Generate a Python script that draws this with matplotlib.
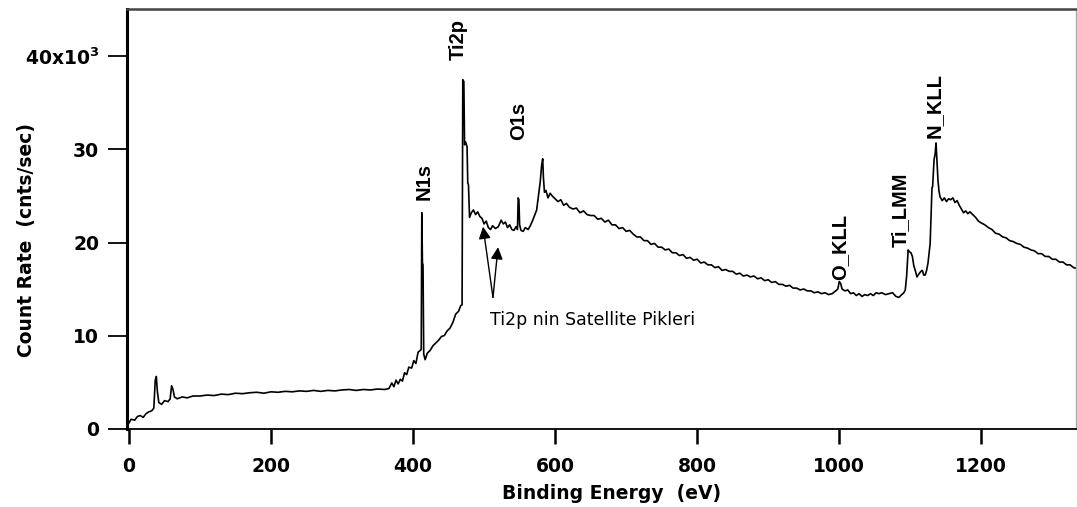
import numpy as np
import matplotlib
matplotlib.use('Agg')
import matplotlib.pyplot as plt

# XPS survey spectrum
# (binding energy in eV, count rate in 10^3 cnts/sec), one list per region
low_region = [(0, 0.6), (3, 1.0), (8, 0.9), (12, 1.3), (16, 1.4), (20, 1.2), (24, 1.6), (28, 1.8),
              (32, 1.9), (35, 2.2), (37, 5.2), (38.5, 5.6), (40, 4.0), (42, 2.8), (46, 2.6), (50, 3.0),
              (55, 2.9), (58, 3.2), (60, 4.6), (62, 4.2), (64, 3.4), (68, 3.2), (75, 3.4), (82, 3.3),
              (90, 3.5), (100, 3.5), (110, 3.6), (120, 3.55), (130, 3.7), (140, 3.65), (150, 3.8),
              (160, 3.75), (170, 3.85), (180, 3.9), (190, 3.8), (200, 3.95), (210, 3.9), (220, 4.0),
              (230, 3.95), (240, 4.05), (250, 4.0), (260, 4.1), (270, 4.0), (280, 4.1), (290, 4.05),
              (300, 4.15), (310, 4.2), (320, 4.1), (330, 4.2), (340, 4.15), (350, 4.25), (360, 4.2),
              (366, 4.3), (370, 4.9), (373, 4.5), (376, 5.2), (379, 4.8), (382, 5.3), (385, 5.1),
              (388, 6.0), (391, 5.8), (394, 6.6), (398, 6.5), (401, 7.3), (404, 7.0), (407, 8.2),
              (410, 8.4), (411.5, 8.5)]
n_ti_region = [(412.3, 23.2), (413.2, 17.8), (414, 17.6), (415, 8.0), (417, 7.4), (420, 8.1),
               (424, 8.4), (428, 8.9), (432, 9.2), (436, 9.5), (440, 9.9), (444, 10.0), (448, 10.5),
               (452, 10.8), (456, 11.4), (460, 12.3), (464, 12.6), (467, 13.2), (469, 13.3),
               (470, 37.5), (471.5, 37.3), (472.5, 30.5), (474, 30.8), (476, 30.3), (477, 26.4),
               (478, 26.2), (479.5, 22.7), (482, 23.2), (485, 23.5), (488, 23.0), (491, 23.3),
               (494, 22.8), (497, 22.6), (500, 22.0), (503, 22.3), (506, 21.6), (509, 21.4),
               (512, 21.8), (516, 21.5), (520, 21.7), (524, 22.4), (527, 22.0), (530, 22.2),
               (533, 21.6), (536, 21.9), (539, 21.4), (542, 21.3), (545, 21.7), (547, 21.4)]
o_region = [(548, 24.8), (549, 24.6), (550, 21.9), (552, 21.3), (555, 21.2), (558, 21.6), (562, 21.4),
            (565, 21.8), (568, 22.3), (571, 22.9), (574, 23.5), (577, 25.3), (579, 26.5), (581, 28.3),
            (582.5, 29.0), (583.5, 27.0), (585, 25.4), (587, 25.6), (590, 24.8), (593, 25.3),
            (596, 25.0), (600, 24.7), (604, 24.4), (608, 24.6), (612, 24.0), (616, 24.2), (620, 23.8),
            (625, 23.6), (630, 23.7), (635, 23.2), (640, 23.4), (645, 23.0), (650, 22.9)]
tail_region = [(655, 22.9), (660, 22.5), (665, 22.6), (670, 22.2), (675, 22.4), (680, 21.9), (685, 21.9),
               (690, 21.5), (695, 21.6), (700, 21.2), (705, 21.3), (710, 20.9), (715, 20.6), (720, 20.6),
               (725, 20.2), (730, 20.2), (735, 19.8), (740, 19.9), (745, 19.5), (750, 19.5), (755, 19.2),
               (760, 19.3), (765, 18.9), (770, 18.9), (775, 18.6), (780, 18.7), (785, 18.3), (790, 18.4),
               (795, 18.1), (800, 18.2), (805, 17.8), (810, 17.9), (815, 17.6), (820, 17.6), (825, 17.3),
               (830, 17.4), (835, 17.0), (840, 17.1), (845, 16.9), (850, 16.9), (855, 16.6), (860, 16.7),
               (865, 16.4), (870, 16.5), (875, 16.3), (880, 16.4), (885, 16.1), (890, 16.2), (895, 15.9),
               (900, 16.0), (905, 15.7), (910, 15.8), (915, 15.5), (920, 15.5), (925, 15.3), (930, 15.4),
               (935, 15.1), (940, 15.1), (945, 14.9), (950, 15.0), (955, 14.8), (960, 14.8), (965, 14.6),
               (970, 14.7), (975, 14.5), (980, 14.6), (985, 14.4), (990, 14.5), (995, 14.8), (998, 15.0),
               (1000, 15.8), (1002, 15.6), (1004, 15.0), (1008, 14.8), (1012, 14.9), (1016, 14.5),
               (1020, 14.6), (1024, 14.3), (1028, 14.5), (1032, 14.2), (1036, 14.4), (1040, 14.3),
               (1044, 14.5), (1048, 14.3), (1052, 14.6), (1056, 14.5), (1060, 14.6), (1065, 14.4),
               (1070, 14.5), (1075, 14.6), (1080, 14.2), (1084, 14.1), (1088, 14.4), (1091, 14.6),
               (1093, 14.9), (1095, 16.5)]
auger_region = [(1097, 19.2), (1099, 19.0), (1101, 18.9), (1103, 18.5), (1105, 17.5), (1107, 17.0),
                (1109.5, 16.3), (1112, 16.6), (1115, 16.9), (1117, 17.0), (1119, 16.5), (1121, 16.5),
                (1123, 17.0), (1125, 17.8), (1128, 19.9), (1130.6, 25.9), (1131.5, 26.0), (1133.5, 28.9),
                (1135, 29.5), (1136.3, 30.7), (1137.5, 29.0), (1139, 26.7), (1140.5, 25.5), (1142, 24.9),
                (1145, 24.5), (1148, 24.8), (1151, 24.4), (1154, 24.7), (1157, 24.6), (1160, 24.8),
                (1163, 24.3), (1166, 24.5), (1169, 24.0), (1172, 23.6), (1175, 23.2), (1178, 23.4),
                (1181, 23.1), (1184, 23.3), (1188, 23.0), (1192, 22.7), (1196, 22.3), (1200, 22.1),
                (1205, 21.9), (1210, 21.6), (1215, 21.4), (1220, 21.0), (1225, 20.9), (1230, 20.6),
                (1235, 20.5), (1240, 20.2), (1245, 20.1), (1250, 19.9), (1255, 19.8), (1260, 19.5),
                (1265, 19.4), (1270, 19.2), (1275, 19.1), (1280, 18.8), (1285, 18.8), (1290, 18.5),
                (1295, 18.5), (1300, 18.2), (1305, 18.2), (1310, 17.9), (1315, 17.9), (1320, 17.6),
                (1325, 17.6), (1330, 17.3), (1335, 17.2)]

# peak labels: text, energy, bottom of text (10^3 cnts/sec)
peak_names = ['Ti2p', 'N1s', 'O1s', 'O_KLL', 'Ti_LMM', 'N_KLL']
peak_energy = [463, 415, 549, 1001, 1086, 1133]
peak_label_y = [39.6, 24.6, 31.0, 16.0, 19.5, 31.2]

# satellite arrows
sat_text = 'Ti2p nin Satellite Pikleri'
sat_tail = (512.5, 14.1)
sat_heads = [(498.5, 21.7), (519.6, 19.5)]

spectrum = low_region + n_ti_region + o_region + tail_region + auger_region
energy = [p[0] for p in spectrum]
count_rate = [p[1] for p in spectrum]

fig = plt.figure(figsize=(10.77, 5.07), dpi=100)
ax = fig.add_axes([0.1179, 0.1538, 0.8812, 0.8284])

ax.plot(energy, count_rate, color='black', lw=1.2)

for name, e, yb in zip(peak_names, peak_energy, peak_label_y):
    ax.text(e, yb, name, rotation=90, ha='center', va='bottom', fontsize=14.5,
            family='Liberation Sans', fontweight='bold')

for head in sat_heads:
    ax.annotate('', xy=head, xytext=sat_tail,
                arrowprops=dict(arrowstyle='-|>', color='black', lw=1.0,
                                mutation_scale=18, shrinkA=0, shrinkB=0))
ax.text(508, 11.7, sat_text, ha='left', va='center', fontsize=12.5, family='DejaVu Sans')

ax.set_xlim(-2.8, 1333.4)
ax.set_ylim(-0.05, 45.1)
ax.set_xticks([0, 200, 400, 600, 800, 1000, 1200])
ax.set_yticks([0, 10, 20, 30, 40])
ax.set_yticklabels(['0', '10', '20', '30', r'40x10$^\mathbf{3}$'])
ax.tick_params(axis='x', direction='out', length=10.5, width=1.8, pad=10, labelsize=13.5)
ax.tick_params(axis='y', direction='out', length=14, width=1.3, pad=6, labelsize=13.5)
for lab in ax.get_xticklabels() + ax.get_yticklabels():
    lab.set_fontweight('bold')

ax.spines['left'].set_linewidth(2.2)
ax.spines['bottom'].set_linewidth(1.3)
ax.spines['top'].set_linewidth(1.8)
ax.spines['top'].set_color('#444444')
ax.spines['right'].set_linewidth(1.0)
ax.spines['right'].set_color('#aaaaaa')

ax.set_xlabel('Binding Energy  (eV)', fontsize=13.5, fontweight='bold')
ax.set_ylabel('Count Rate  (cnts/sec)', fontsize=13.5, fontweight='bold')
ax.xaxis.set_label_coords(0.511, -0.13)
ax.yaxis.set_label_coords(-0.096, 0.45)

fig.savefig('out.png', dpi=100)
